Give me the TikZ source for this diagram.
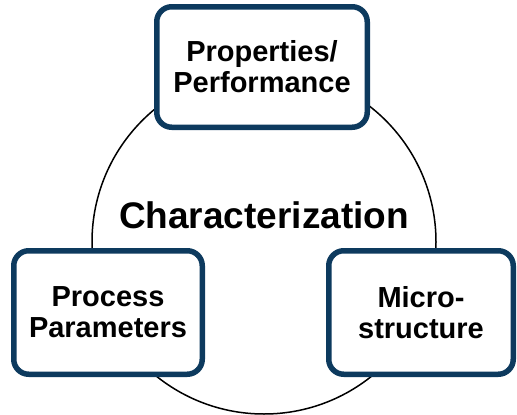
\documentclass[tikz,border=0pt]{standalone}
\usepackage{fontspec}
\setmainfont{Liberation Sans}
\definecolor{navy}{HTML}{0D3A5E}
\begin{document}
\begin{tikzpicture}[x=1pt,y=-1pt,
  box/.style={draw=navy, line width=5.5pt, rounded corners=15pt, fill=white,
    align=center, inner sep=0pt, font=\fontsize{29}{31}\selectfont\bfseries},
  ring/.style={draw=black, line width=1.5pt}]
\useasboundingbox (0,0) rectangle (517,415);
\node[circle, ring, minimum size=344pt, inner sep=0pt] (ring) at (264,242) {};
\node[box, minimum width=210.5pt, minimum height=120.5pt] (prop) at (262,67) {Properties/\\Performance};
\node[box, minimum width=188.5pt, minimum height=123.5pt] (proc) at (108,312.5) {Process\\Parameters};
\node[box, minimum width=184.5pt, minimum height=123.5pt] (micro) at (421,312.5) {Micro-\\structure};
\node[anchor=base, inner sep=0pt, font=\fontsize{37}{40}\selectfont\bfseries] (char) at (264,228) {Characterization};
\end{tikzpicture}
\end{document}
